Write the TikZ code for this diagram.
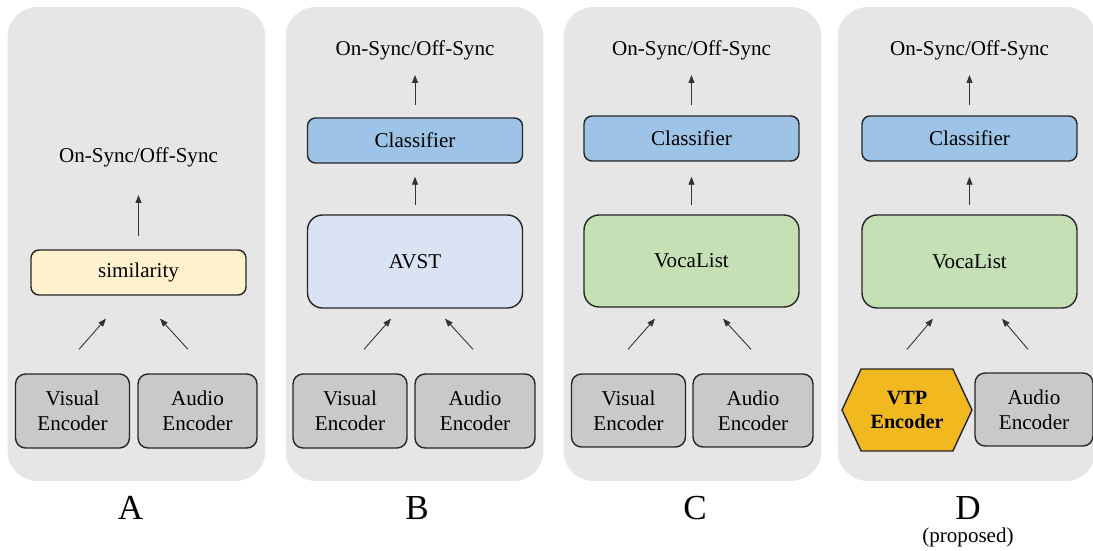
\documentclass[tikz,border=0pt]{standalone}
\usepackage{fontspec}
\setmainfont{Liberation Serif}
\usepackage{tikz}
\usetikzlibrary{arrows.meta, shapes.symbols, calc}
\definecolor{panelcolor}{RGB}{231,230,231}
\definecolor{enccolor}{RGB}{201,201,201}
\definecolor{simcolor}{RGB}{255,242,204}
\definecolor{clscolor}{RGB}{157,195,230}
\definecolor{avstcolor}{RGB}{218,227,243}
\definecolor{vocacolor}{RGB}{197,224,180}
\definecolor{vtpcolor}{RGB}{242,184,32}

\begin{document}
\begin{tikzpicture}[
    x=0.02cm, y=-0.02cm,
    panel/.style={fill=panelcolor, rounded corners=0.6cm, minimum width=5.16cm, minimum height=9.48cm},
    box/.style={draw=black!85, line width=0.8pt, rounded corners=0.16cm, minimum width=4.3cm, minimum height=0.9cm, align=center, font=\fontsize{12}{14}\selectfont},
    bigbox/.style={box, rounded corners=0.3cm, minimum height=1.86cm},
    enc/.style={box, fill=enccolor, rounded corners=0.2cm, minimum width=2.28cm, minimum height=1.48cm},
    vtpbox/.style={draw=black!85, line width=0.8pt, fill=vtpcolor, shape=signal, signal to=west and east, signal pointer angle=130, minimum width=2.6cm, minimum height=1.64cm, inner sep=1pt, align=center, font=\fontsize{11.5}{14}\selectfont\bfseries},
    txt/.style={font=\fontsize{12}{14}\selectfont},
    lab/.style={font=\fontsize{20}{24}\selectfont},
    arrow/.style={-{Triangle[length=1.6mm, width=1.2mm]}, line width=0.5pt, black!80}
]
    \useasboundingbox (0,0) rectangle (1093,551);
    \clip (0,0) rectangle (1093,551);

    % Background panels
    \node[panel] (pA) at (136.5,244) {};
    \node[panel] (pB) at (414.5,244) {};
    \node[panel] (pC) at (692.5,244) {};
    \node[panel] (pD) at (966.5,244) {};

    % A: similarity
    \node[txt] (outA) at (138.5,157) {On-Sync/Off-Sync};
    \node[box, fill=simcolor] (simA) at (138.5,272.5) {similarity};
    \node[enc] (visA) at (72.5,411) {Visual\\Encoder};
    \node[enc, minimum width=2.38cm] (audA) at (197.5,411) {Audio\\Encoder};
    \draw[arrow] ($(simA.north)+(0,-13)$) -- ($(outA)+(0,38)$);
    \draw[arrow] ($(visA.north)+(6.5,-24)$) -- ($(simA.south)+(-32.5,23)$);
    \draw[arrow] ($(audA.north)+(-9.5,-24)$) -- ($(simA.south)+(21.5,23)$);
    \node[lab] (labA) at (130.5,508) {A};

    % B: AVST
    \node[txt] (outB) at (415,50) {On-Sync/Off-Sync};
    \node[box, fill=clscolor] (clsB) at (415,140.5) {Classifier};
    \node[bigbox, fill=avstcolor] (avst) at (415,261.5) {AVST};
    \node[enc] (visB) at (350,411) {Visual\\Encoder};
    \node[enc, minimum width=2.4cm] (audB) at (475,411) {Audio\\Encoder};
    \draw[arrow] ($(clsB.north)+(0,-12)$) -- ($(outB)+(0,25)$);
    \draw[arrow] ($(avst.north)+(0,-9)$) -- ($(clsB.south)+(0,13)$);
    \draw[arrow] ($(visB.north)+(14,-24)$) -- ($(avst.south)+(-24,10)$);
    \draw[arrow] ($(audB.north)+(-2,-24)$) -- ($(avst.south)+(30,10)$);
    \node[lab] (labB) at (417,508) {B};

    % C: VocaList
    \node[txt] (outC) at (691.5,50) {On-Sync/Off-Sync};
    \node[box, fill=clscolor] (clsC) at (691.5,138.5) {Classifier};
    \node[bigbox, fill=vocacolor, minimum height=1.84cm] (vocC) at (691.5,261) {VocaList};
    \node[enc, minimum height=1.46cm] (visC) at (628.5,410.5) {Visual\\Encoder};
    \node[enc, minimum width=2.4cm, minimum height=1.46cm] (audC) at (753,410.5) {Audio\\Encoder};
    \draw[arrow] ($(clsC.north)+(0,-10)$) -- ($(outC)+(0,25)$);
    \draw[arrow] ($(vocC.north)+(0,-9)$) -- ($(clsC.south)+(0,15)$);
    \draw[arrow] ($(visC.north)+(-0.5,-24)$) -- ($(vocC.south)+(-36.5,11)$);
    \draw[arrow] ($(audC.north)+(-2,-24)$) -- ($(vocC.south)+(31.5,11)$);
    \node[lab] (labC) at (695,508) {C};

    % D: VocaList with VTP (proposed)
    \node[txt] (outD) at (969.5,50) {On-Sync/Off-Sync};
    \node[box, fill=clscolor] (clsD) at (969.5,138.5) {Classifier};
    \node[bigbox, fill=vocacolor] (vocD) at (969.5,261.5) {VocaList};
    \node[vtpbox] (vtp) at (907,410) {VTP\\Encoder};
    \node[enc, minimum width=2.36cm, minimum height=1.46cm] (audD) at (1034,409.5) {Audio\\Encoder};
    \draw[arrow] ($(clsD.north)+(0,-10)$) -- ($(outD)+(0,25)$);
    \draw[arrow] ($(vocD.north)+(0,-9)$) -- ($(clsD.south)+(0,15)$);
    \draw[arrow] ($(vtp.north)+(0,-19)$) -- ($(vocD.south)+(-36.5,10)$);
    \draw[arrow] ($(audD.north)+(-6,-23)$) -- ($(vocD.south)+(32.5,10)$);
    \node[lab] (labD) at (968,508) {D};
    \node[txt] (prop) at (968,537) {(proposed)};
\end{tikzpicture}
\end{document}
